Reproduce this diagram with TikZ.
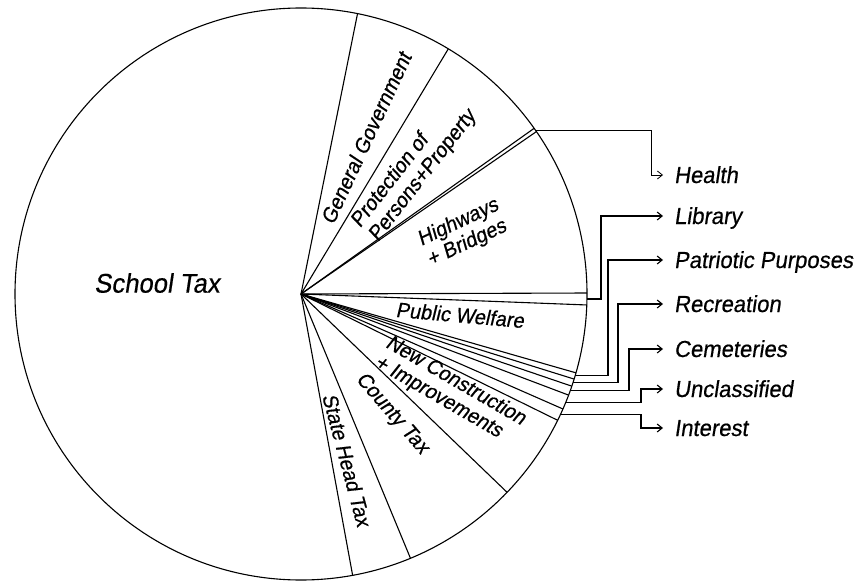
\documentclass[tikz,border=0pt]{standalone}
\usepackage{fontspec}
\newfontfamily\hand{Liberation Sans}[FakeStretch=0.95,FakeSlant=0.15,FakeBold=0.5]
\usetikzlibrary{arrows.meta,calc}
\begin{document}
\begin{tikzpicture}[x=1pt,y=1pt,
  rim/.style={line width=1.1pt},
  conn/.style={line width=1.1pt,-{Straight Barb[length=5pt,width=8pt]}},
  slab/.style={font=\hand\fontsize{21}{22.5}\selectfont, inner sep=0pt, align=left},
  rlab/.style={font=\hand\fontsize{23.2}{24}\selectfont, anchor=west, inner sep=0pt, text height=16pt, text depth=0pt}]
\useasboundingbox (0,0) rectangle (861,582);
\fill[white] (0,0) rectangle (861,582);
\coordinate (C) at (301,288);
\draw[rim] (C) circle[radius=286];
\foreach \a in {78.6,59.0,35.4,34.6,0.2,-2.2,-16.0,-17.3,-18.8,-20.7,-23.7,-26.2,-43.9,-67.5,-79.6}
  \draw[rim] (C) -- ++(\a:286);
% connector start points (mid of the small slices)
\coordinate (hs) at ($(C)+(35.0:286)$);
\coordinate (ls) at ($(C)+(-1.0:286)$);
\coordinate (ps) at ($(C)+(-16.65:286)$);
\coordinate (rs) at ($(C)+(-18.05:286)$);
\coordinate (cs) at ($(C)+(-19.75:286)$);
\coordinate (us) at ($(C)+(-22.2:286)$);
\coordinate (is) at ($(C)+(-24.95:286)$);
% vertical runs
\coordinate (xh) at (651,0);
\coordinate (xl) at (601,0);
\coordinate (xp) at (608,0);
\coordinate (xr) at (618,0);
\coordinate (xc) at (629,0);
\coordinate (xu) at (641,0);
% right labels
\node[rlab] (health) at (674,407) {Health};
\node[rlab] (library) at (674,366) {Library};
\node[rlab] (patriotic) at (674,322) {Patriotic Purposes};
\node[rlab] (recreation) at (674,278) {Recreation};
\node[rlab] (cemeteries) at (674,233) {Cemeteries};
\node[rlab] (unclassified) at (674,193) {Unclassified};
\node[rlab] (interest) at (674,154) {Interest};
\draw[conn,line width=0.8pt] (hs) -- (hs -| xh) |- ([xshift=-11pt]health.west);
\draw[conn] (ls) -- (ls -| xl) |- ([xshift=-11pt]library.west);
\draw[conn] (ps) -- (ps -| xp) |- ([xshift=-11pt]patriotic.west);
\draw[conn] (rs) -- (rs -| xr) |- ([xshift=-11pt]recreation.west);
\draw[conn] (cs) -- (cs -| xc) |- ([xshift=-11pt]cemeteries.west);
\draw[conn] (us) -- (us -| xu) |- ([xshift=-11pt]unclassified.west);
\draw[conn] (is) -- (is -| xu) |- ([xshift=-11pt]interest.west);
% slice labels
\node[slab, font=\hand\fontsize{27}{27}\selectfont] (school) at (157,299) {School Tax};
\node[slab, rotate=65] (gg) at (366,444) {General Government};
\node[slab, rotate=52] (prot) at (414,413) {Protection of\\Persons+Property};
\node[slab, rotate=25] (hw) at (463,349) {Highways\\+ Bridges};
\node[slab, rotate=-5] (pw) at (460,267) {Public Welfare};
\node[slab, rotate=-30] (nc) at (450,191) {New Construction\\+ Improvements};
\node[slab, rotate=-49] (ct) at (392,168) {County Tax};
\node[slab, rotate=-75] (st) at (347,122) {State Head Tax};
\end{tikzpicture}
\end{document}
